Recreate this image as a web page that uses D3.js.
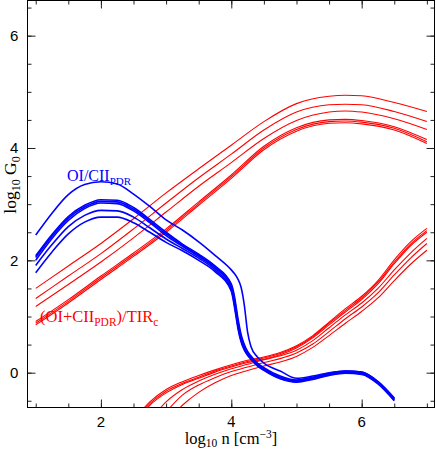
<!DOCTYPE html>
<html><head><meta charset="utf-8">
<script src="https://cdn.jsdelivr.net/npm/d3@7"></script>
<style>body{margin:0;background:#fff}svg{display:block}</style>
</head><body><svg id="c" width="436" height="450"></svg>
<script>
// ---- data ----
const blueN = [1.0,1.25,1.5,1.75,2.0,2.25,2.5,2.75,3.0,3.25,3.5,3.75,4.0,4.05,4.1,4.15,4.2,4.25,4.3,4.4,4.5,4.75,5.0,5.25,5.5,5.75,6.0,6.25,6.5];
const blue0 = [2.45,2.84,3.17,3.35,3.40,3.36,3.18,2.96,2.72,2.54,2.33,2.09,1.83,1.76,1.67,1.52,1.20,0.72,0.47,0.28,0.17,0.03,-0.10,-0.06,0.00,0.03,0.01,-0.16,-0.45];
const blue1 = [2.08,2.46,2.78,2.98,3.08,3.07,2.94,2.73,2.50,2.29,2.11,1.90,1.58,1.35,0.98,0.68,0.50,0.38,0.30,0.17,0.09,-0.06,-0.13,-0.08,-0.01,0.03,0.01,-0.16,-0.46];
const blue2 = [2.05,2.43,2.75,2.95,3.05,3.04,2.91,2.70,2.47,2.27,2.09,1.88,1.55,1.30,0.93,0.64,0.47,0.36,0.28,0.15,0.07,-0.08,-0.14,-0.09,-0.02,0.02,0.00,-0.17,-0.47];
const blue3 = [2.00,2.39,2.71,2.92,3.02,3.01,2.88,2.67,2.44,2.25,2.07,1.86,1.52,1.25,0.88,0.60,0.44,0.34,0.26,0.14,0.06,-0.09,-0.15,-0.10,-0.03,0.01,-0.01,-0.18,-0.48];
const blue4 = [1.91,2.28,2.60,2.80,2.89,2.88,2.77,2.58,2.38,2.21,2.04,1.83,1.48,1.20,0.84,0.57,0.42,0.32,0.25,0.13,0.05,-0.10,-0.16,-0.11,-0.04,0.00,-0.02,-0.19,-0.49];
const blue5 = [1.78,2.15,2.47,2.68,2.77,2.77,2.67,2.50,2.32,2.17,2.00,1.80,1.45,1.16,0.80,0.55,0.40,0.31,0.24,0.12,0.04,-0.11,-0.17,-0.12,-0.05,-0.01,-0.03,-0.20,-0.50];

const redUpN = [1.0,1.5,2.0,2.5,3.0,3.5,4.0,4.5,5.0,5.5,5.75,6.0,6.5,7.0];
const redUp1 = [1.50,1.90,2.30,2.74,3.20,3.63,4.05,4.47,4.79,4.92,4.94,4.93,4.81,4.65];
const redUp2 = [1.32,1.72,2.12,2.56,3.02,3.47,3.89,4.32,4.64,4.77,4.78,4.77,4.65,4.47];
const redUp3 = [1.18,1.57,1.97,2.40,2.86,3.32,3.74,4.17,4.49,4.64,4.66,4.64,4.52,4.33];
const redUp4 = [0.91,1.30,1.72,2.13,2.56,3.04,3.52,4.03,4.36,4.50,4.51,4.49,4.38,4.15];
const redUp5 = [0.88,1.27,1.69,2.10,2.53,3.01,3.49,4.00,4.33,4.47,4.48,4.46,4.35,4.11];
const redUp6 = [0.85,1.24,1.66,2.07,2.50,2.98,3.46,3.97,4.30,4.44,4.45,4.43,4.32,4.08];

const redLoN = [2.5,2.75,3.0,3.25,3.5,3.75,4.0,4.25,4.5,4.75,5.0,5.25,5.5,5.75,6.0,6.25,6.5,6.75,7.0];
const redLo1 = [-0.85,-0.52,-0.30,-0.16,-0.05,0.05,0.14,0.22,0.28,0.36,0.48,0.66,0.90,1.14,1.36,1.64,2.01,2.33,2.57];
const redLo2 = [-0.88,-0.55,-0.33,-0.19,-0.08,0.03,0.12,0.20,0.26,0.34,0.46,0.64,0.88,1.11,1.33,1.61,1.97,2.29,2.53];
const redLo3 = [-0.91,-0.58,-0.36,-0.21,-0.10,0.01,0.10,0.18,0.24,0.32,0.44,0.62,0.85,1.08,1.30,1.58,1.94,2.26,2.50];
const redLo4 = [-1.20,-0.85,-0.52,-0.30,-0.15,-0.03,0.07,0.15,0.23,0.30,0.40,0.57,0.80,1.03,1.24,1.50,1.83,2.13,2.39];
const redLo5 = [-1.40,-1.05,-0.70,-0.40,-0.22,-0.09,0.02,0.10,0.18,0.25,0.35,0.51,0.73,0.96,1.17,1.42,1.74,2.04,2.30];
const redLo6 = [-1.60,-1.25,-0.90,-0.58,-0.35,-0.18,-0.05,0.04,0.12,0.19,0.29,0.45,0.66,0.88,1.09,1.33,1.64,1.93,2.18];

const xMinorTicks = [1,1.5,2,2.5,3,3.5,4,4.5,5,5.5,6,6.5,7];
const xMajorTicks = [2,4,6];
const yMinorTicks = [-0.5,0,0.5,1,1.5,2,2.5,3,3.5,4,4.5,5,5.5,6,6.5];
const yMajorTicks = [0,2,4,6];

// ---- layout ----
const L=27.5,R=434.5,T=0.5,B=407.5;
const x=d3.scaleLinear().domain([0.874,7.117]).range([L,R]);
const y=d3.scaleLinear().domain([-0.62,6.626]).range([B,T]);
const svg=d3.select('#c');
svg.append('rect').attr('width',436).attr('height',450).attr('fill','#fff');
svg.append('defs').append('clipPath').attr('id','clip').append('rect')
  .attr('x',L).attr('y',T).attr('width',R-L).attr('height',B-T);
const g=svg.append('g').attr('clip-path','url(#clip)');
const line=d3.line().x(d=>x(d[0])).y(d=>y(d[1])).curve(d3.curveMonotoneX);
function draw(ns, vals, color, w){
  g.append('path').datum(ns.map((n,i)=>[n,vals[i]])).attr('d',line)
   .attr('fill','none').attr('stroke',color).attr('stroke-width',w).attr('stroke-linejoin','round');
}
[redUp1,redUp2,redUp3,redUp4,redUp5,redUp6].forEach(v=>draw(redUpN,v,'#ff0000',1.1));
[redLo1,redLo2,redLo3,redLo4,redLo5,redLo6].forEach(v=>draw(redLoN,v,'#ff0000',1.1));
[blue0,blue1,blue2,blue3,blue4,blue5].forEach(v=>draw(blueN,v,'#0000ff',1.6));

// ---- axes ----
function ax(gen, tr, vals, size){
  const a=svg.append('g').attr('transform',tr)
    .call(gen.tickValues(vals).tickSize(size).tickFormat(''));
  a.select('.domain').remove();
  a.selectAll('line').attr('stroke','#222').attr('stroke-width',1);
}
ax(d3.axisBottom(x),`translate(0,${B})`,xMinorTicks,-4);
ax(d3.axisBottom(x),`translate(0,${B})`,xMajorTicks,-8);
ax(d3.axisTop(x),`translate(0,${T})`,xMinorTicks,-4);
ax(d3.axisTop(x),`translate(0,${T})`,xMajorTicks,-8);
ax(d3.axisLeft(y),`translate(${L},0)`,yMinorTicks,-4);
ax(d3.axisLeft(y),`translate(${L},0)`,yMajorTicks,-8);
ax(d3.axisRight(y),`translate(${R},0)`,yMinorTicks,-4);
ax(d3.axisRight(y),`translate(${R},0)`,yMajorTicks,-8);
svg.append('rect').attr('x',L).attr('y',T).attr('width',R-L).attr('height',B-T)
  .attr('fill','none').attr('stroke','#000').attr('stroke-width',1);

const sans='"Liberation Sans", Arial, sans-serif';
const serif='"Liberation Serif", "Times New Roman", serif';
yMajorTicks.forEach(v=>{
  svg.append('text').attr('x',14.2).attr('y',y(v)+5.4).attr('text-anchor','middle')
    .attr('font-family',sans).attr('font-size',15).text(v);
});
xMajorTicks.forEach(v=>{
  svg.append('text').attr('x',x(v)).attr('y',427).attr('text-anchor','middle')
    .attr('font-family',v===4?serif:sans).attr('font-size',v===4?16:15).text(v);
});

// axis titles
const xt=svg.append('text').attr('x',231).attr('y',444).attr('text-anchor','middle')
  .attr('font-family',serif).attr('font-size',16.5);
xt.append('tspan').text('log');
xt.append('tspan').attr('font-size',11.5).attr('dy',3).text('10');
xt.append('tspan').attr('dy',-3).text(' n [cm');
xt.append('tspan').attr('font-size',11.5).attr('dy',-6).text('−3');
xt.append('tspan').attr('dy',6).text(']');

const yt=svg.append('text').attr('transform','translate(16,185) rotate(-90)').attr('text-anchor','middle')
  .attr('font-family',serif).attr('font-size',17.5);
yt.append('tspan').text('log');
yt.append('tspan').attr('font-size',12).attr('dy',4).text('10');
yt.append('tspan').attr('dy',-4).text(' G');
yt.append('tspan').attr('font-size',12).attr('dy',4).text('0');

// series labels
const bl=svg.append('text').attr('x',67).attr('y',181).attr('fill','#0000ff')
  .attr('font-family',serif).attr('font-size',16);
bl.append('tspan').text('OI/CII');
bl.append('tspan').attr('font-size',11).attr('dy',4).text('PDR');

const rl=svg.append('text').attr('x',40).attr('y',322).attr('fill','#ff0000')
  .attr('font-family',serif).attr('font-size',16.5);
rl.append('tspan').text('(OI+CII');
rl.append('tspan').attr('font-size',11.5).attr('dy',4).text('PDR');
rl.append('tspan').attr('dy',-4).text(')/TIR');
rl.append('tspan').attr('font-size',11.5).attr('dy',4).text('c');
</script></body></html>
